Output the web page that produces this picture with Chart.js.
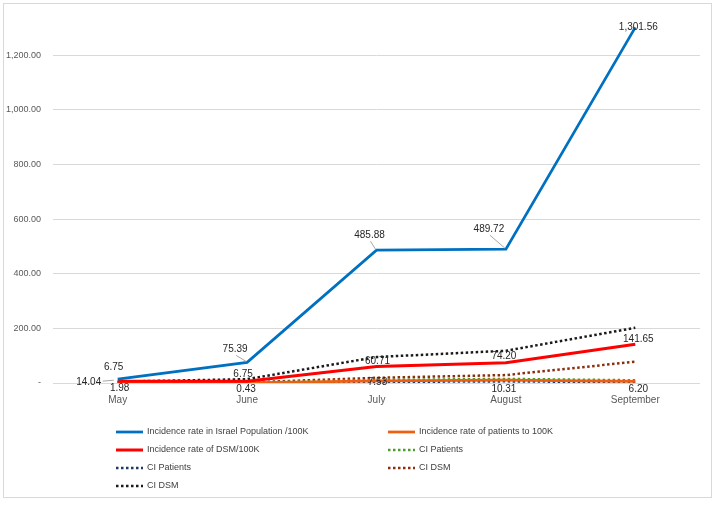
<!DOCTYPE html>
<html>
<head>
<meta charset="utf-8">
<script src="https://cdn.jsdelivr.net/npm/chart.js@4"></script>
<style>
  html, body { margin: 0; padding: 0; background: #fff; }
  #wrap { position: relative; width: 717px; height: 505px; }
  #frame { position: absolute; left: 3px; top: 3px; width: 709px; height: 495px; border: 1px solid #d9d9d9; box-sizing: border-box; pointer-events: none; }
</style>
</head>
<body>
<div id="wrap">
  <canvas id="myChart" width="717" height="505"></canvas>
  <div id="frame"></div>
</div>
<script>
const months = ['May', 'June', 'July', 'August', 'September'];
const yTicks = [0, 200, 400, 600, 800, 1000, 1200];
const israelRate = [14.04, 75.39, 485.88, 489.72, 1301.56];
const patientsRate = [1.98, 0.43, 7.53, 10.31, 6.20];
const dsmRate = [6.75, 6.75, 60.71, 74.20, 141.65];
const ciPatientsHigh = [3.0, 1.5, 11, 15, 10];
const ciPatientsLow = [0.9, 0.1, 4, 6, 3];
const ciDsmLow = [1, 2, 19, 29, 78];
const ciDsmHigh = [5, 14, 95, 118, 202];

const FONT = '"Liberation Sans", Arial, sans-serif';

// label offsets (px) per series / point
const blueOff = [[-29, 3], [-12, -13], [-7, -15], [-17, -20], [3, 0]];
const redOff = [[-4, -14], [-4, -7], [1, -5], [-2, -6], [3, -5]];
const orangeOff = [[2, 6], [-1, 6], [1, 1], [-2, 9], [3, 8]];

const fmt = v => v.toLocaleString('en-US', { minimumFractionDigits: 2, maximumFractionDigits: 2 });

const ctx = document.getElementById('myChart');

const data = {
    labels: months,
    datasets: [
        { label: 'Incidence rate in Israel Population /100K', data: israelRate, borderColor: '#0070C0', borderWidth: 2.75, offs: blueOff, leader: [true, true, true, true, false], order: 1 },
        { label: 'Incidence rate of patients to 100K', data: patientsRate, borderColor: '#ED5F12', borderWidth: 2.75, offs: orangeOff, order: 3 },
        { label: 'Incidence rate of DSM/100K', data: dsmRate, borderColor: '#FF0000', borderWidth: 3, offs: redOff, order: 2 },
        { label: 'CI Patients', data: ciPatientsHigh, borderColor: '#4E9A2A', borderWidth: 2.5, borderDash: [2.5, 2.5], order: 4 },
        { label: 'CI Patients', data: ciPatientsLow, borderColor: '#1F3864', borderWidth: 2.5, borderDash: [2.5, 2.5], order: 4 },
        { label: 'CI DSM', data: ciDsmLow, borderColor: '#8B2E0C', borderWidth: 2.5, borderDash: [2.5, 2.5], order: 4 },
        { label: 'CI DSM', data: ciDsmHigh, borderColor: '#1a1a1a', borderWidth: 2.5, borderDash: [2.5, 2.5], order: 4 }
    ]
};

const valueLabels = {
    id: 'valueLabels',
    afterDatasetsDraw(chart) {
        const c = chart.ctx;
        c.save();
        c.font = '10px ' + FONT;
        c.textAlign = 'center';
        c.textBaseline = 'middle';
        chart.data.datasets.forEach((ds, i) => {
            if (!ds.offs) return;
            const meta = chart.getDatasetMeta(i);
            meta.data.forEach((pt, j) => {
                const lx = pt.x + ds.offs[j][0];
                const ly = pt.y + ds.offs[j][1];
                if (ds.leader && ds.leader[j]) {
                    c.strokeStyle = '#a6a6a6';
                    c.lineWidth = 1;
                    c.beginPath();
                    if (ds.offs[j][1] > 0) {
                        c.moveTo(lx + 14, ly - 1);
                        c.lineTo(pt.x - 4, pt.y + 1);
                    } else {
                        c.moveTo(lx + 1, ly + 6);
                        c.lineTo(pt.x - 1, pt.y - 1);
                    }
                    c.stroke();
                }
                c.fillStyle = '#262626';
                c.fillText(fmt(ds.data[j]), lx, ly);
            });
        });
        c.restore();
    }
};

const legendBox = {
    id: 'legendBox',
    afterDraw(chart) {
        const c = chart.ctx;
        const cols = [116, 388];
        const rows = [432, 450, 468, 486];
        c.save();
        c.font = '9px ' + FONT;
        c.textBaseline = 'middle';
        c.textAlign = 'left';
        chart.data.datasets.forEach((ds, i) => {
            const x = cols[i % 2];
            const y = rows[Math.floor(i / 2)];
            c.strokeStyle = ds.borderColor;
            c.lineWidth = ds.borderWidth;
            c.setLineDash(ds.borderDash || []);
            c.beginPath();
            c.moveTo(x, y);
            c.lineTo(x + 27, y);
            c.stroke();
            c.setLineDash([]);
            c.fillStyle = '#404040';
            c.fillText(ds.label, x + 31, y);
        });
        c.restore();
    }
};

var chart = new Chart(ctx, {
    type: 'line',
    data: data,
    options: {
        responsive: false,
        animation: { duration: 0 },
        layout: { padding: { top: 5, right: 17, bottom: 92, left: 0 } },
        elements: { point: { radius: 0 }, line: { tension: 0, fill: false } },
        plugins: { legend: { display: false }, tooltip: { enabled: false } },
        scales: {
            x: {
                offset: true,
                grid: { display: false },
                border: { display: false },
                ticks: { color: '#595959', font: { family: FONT, size: 10 }, padding: 3 },
                afterFit(scale) { scale.height = 30; }
            },
            y: {
                min: 0,
                max: 1338,
                afterBuildTicks(scale) {
                    scale.ticks = yTicks.map(v => ({ value: v }));
                },
                grid: { color: '#d9d9d9', drawTicks: false },
                border: { display: false },
                ticks: {
                    autoSkip: false,
                    padding: 12,
                    color: '#595959',
                    font: { family: FONT, size: 9 },
                    callback: v => v === 0 ? '-' : fmt(v)
                },
                afterFit(scale) { scale.width = 53; }
            }
        }
    },
    plugins: [valueLabels, legendBox]
});
</script>
</body>
</html>
